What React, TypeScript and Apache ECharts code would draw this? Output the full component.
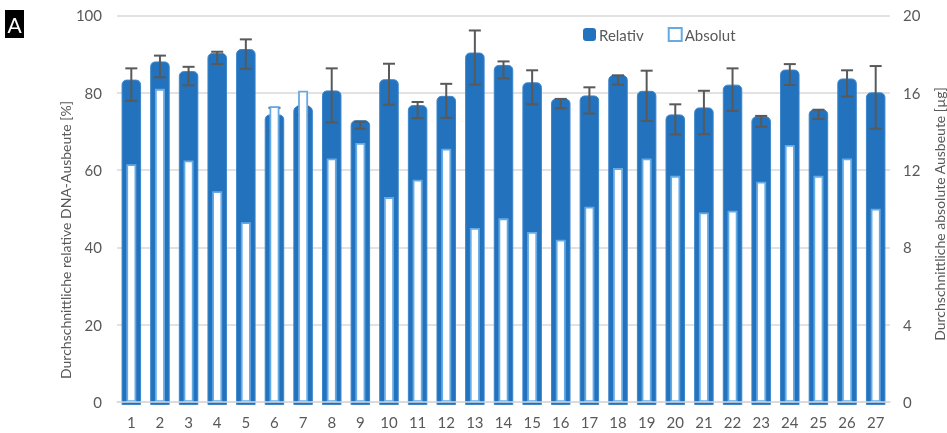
import React, { useEffect, useRef } from "react";
import * as echarts from "echarts";

const categories = ["1","2","3","4","5","6","7","8","9","10","11","12","13","14","15","16","17","18","19","20","21","22","23","24","25","26","27"];
const relativ = [82.1, 86.8, 84.3, 89.0, 90.0, 73.1, 75.3, 79.3, 71.6, 82.2, 75.5, 77.9, 89.1, 85.9, 81.4, 77.2, 78.0, 83.3, 79.2, 73.1, 74.9, 80.8, 72.6, 84.7, 74.4, 82.4, 78.8];
const relativErr = [4.2, 2.8, 2.4, 1.6, 3.8, 3.0, 1.1, 7.0, 0.9, 5.3, 2.1, 4.4, 7.0, 2.2, 4.4, 1.2, 3.4, 1.2, 6.5, 3.9, 5.6, 5.5, 1.4, 2.7, 1.2, 3.4, 8.1];
const absolut = [12.3, 16.2, 12.5, 10.9, 9.3, 15.3, 16.1, 12.6, 13.4, 10.6, 11.5, 13.1, 9.0, 9.5, 8.8, 8.4, 10.1, 12.1, 12.6, 11.7, 9.8, 9.9, 11.4, 13.3, 11.7, 12.6, 10.0];
const leftTitle = "Durchschnittliche relative DNA-Ausbeute [%]";
const rightTitle = "Durchschnittliche absolute Ausbeute [µg]";

const DARK = "#2272be";
const LIGHT = "#66aae4";
const GREY = "#595959";
const FONT = "Lato";

export default function App() {
  const ref = useRef<HTMLDivElement>(null);
  useEffect(() => {
    const chart = echarts.init(ref.current!, null, { renderer: "svg" });
    const relData = relativ.map((v, i) => [i, v]);
    const errData = relativ.map((v, i) => [i, v - relativErr[i], v + relativErr[i]]);
    chart.setOption({
      animation: false,
      textStyle: { fontFamily: FONT },
      grid: { left: 117, right: 57, top: 15.4, bottom: 31, containLabel: false },
      legend: {
        left: 583,
        top: 27,
        padding: 0,
        itemWidth: 13,
        itemHeight: 13,
        itemGap: 24,
        textStyle: { fontSize: 15, color: GREY, fontFamily: FONT, padding: [0, 0, 0, -2] },
        data: [
          { name: "Relativ", icon: "roundRect", itemStyle: { color: DARK, borderWidth: 0 } },
          { name: "Absolut", icon: "rect", itemStyle: { color: "#fff", borderColor: LIGHT, borderWidth: 2 } },
        ],
      },
      xAxis: {
        type: "category",
        data: categories,
        z: 10,
        axisLine: { lineStyle: { color: "#d9d9d9", width: 1.5 } },
        axisTick: { show: false },
        axisLabel: { color: GREY, fontSize: 15, margin: 12, fontFamily: FONT },
      },
      yAxis: [
        {
          type: "value",
          min: 0,
          max: 100,
          interval: 20,
          axisLine: { show: false },
          axisTick: { show: false },
          axisLabel: { color: GREY, fontSize: 15, margin: 15, fontFamily: FONT },
          splitLine: { lineStyle: { color: "#d9d9d9", width: 1.5 } },
        },
        {
          type: "value",
          min: 0,
          max: 20,
          interval: 4,
          axisLine: { show: false },
          axisTick: { show: false },
          axisLabel: { color: GREY, fontSize: 15, margin: 13, fontFamily: FONT },
          splitLine: { show: false },
        },
      ],
      series: [
        {
          name: "Relativ",
          type: "custom",
          yAxisIndex: 0,
          z: 2,
          data: relData,
          itemStyle: { color: DARK },
          renderItem: (params: any, api: any) => {
            const i = api.value(0);
            const top = api.coord([i, api.value(1)]);
            const base = api.coord([i, 0]);
            const w = 18.5;
            const ext = 4.5;
            const below = 2.5;
            return {
              type: "rect",
              shape: { x: top[0] - w / 2, y: top[1] - ext, width: w, height: base[1] - top[1] + ext + below, r: [4.5, 4.5, 0, 0] },
              style: { fill: DARK, stroke: "#3d86cb", lineWidth: 1 },
            };
          },
        },
        {
          name: "Fehler",
          type: "custom",
          yAxisIndex: 0,
          z: 3,
          data: errData,
          renderItem: (params: any, api: any) => {
            const x = api.value(0);
            const lo = api.coord([x, api.value(1)]);
            const hi = api.coord([x, api.value(2)]);
            const cap = 6;
            const style = { stroke: GREY, lineWidth: 2, fill: "none" };
            return {
              type: "group",
              children: [
                { type: "line", shape: { x1: lo[0], y1: lo[1], x2: hi[0], y2: hi[1] }, style },
                { type: "line", shape: { x1: hi[0] - cap, y1: hi[1], x2: hi[0] + cap, y2: hi[1] }, style },
                { type: "line", shape: { x1: lo[0] - cap, y1: lo[1], x2: lo[0] + cap, y2: lo[1] }, style },
              ],
            };
          },
        },
        {
          name: "Absolut",
          type: "bar",
          yAxisIndex: 1,
          data: absolut,
          barWidth: 10,
          z: 4,
          itemStyle: { color: "#ffffff", borderColor: LIGHT, borderWidth: 1.8 },
        },
      ],
      graphic: [
        { type: "rect", left: 5, top: 10, shape: { width: 19, height: 28 }, style: { fill: "#000" } },
        {
          type: "text",
          x: 14.5,
          y: 24.5,
          style: { text: "A", fill: "#fff", fontSize: 21, fontFamily: FONT, textAlign: "center", textVerticalAlign: "middle" },
        },
        {
          type: "text",
          x: 65,
          y: 240,
          rotation: Math.PI / 2,
          style: { text: leftTitle, fill: GREY, fontSize: 14, fontFamily: FONT, textAlign: "center", textVerticalAlign: "middle" },
        },
        {
          type: "text",
          x: 939,
          y: 214,
          rotation: Math.PI / 2,
          style: { text: rightTitle, fill: GREY, fontSize: 14, fontFamily: FONT, textAlign: "center", textVerticalAlign: "middle" },
        },
      ],
    });
    return () => chart.dispose();
  }, []);
  return <div ref={ref} style={{ position: "fixed", left: 0, top: 0, width: 947, height: 433 }} />;
}
